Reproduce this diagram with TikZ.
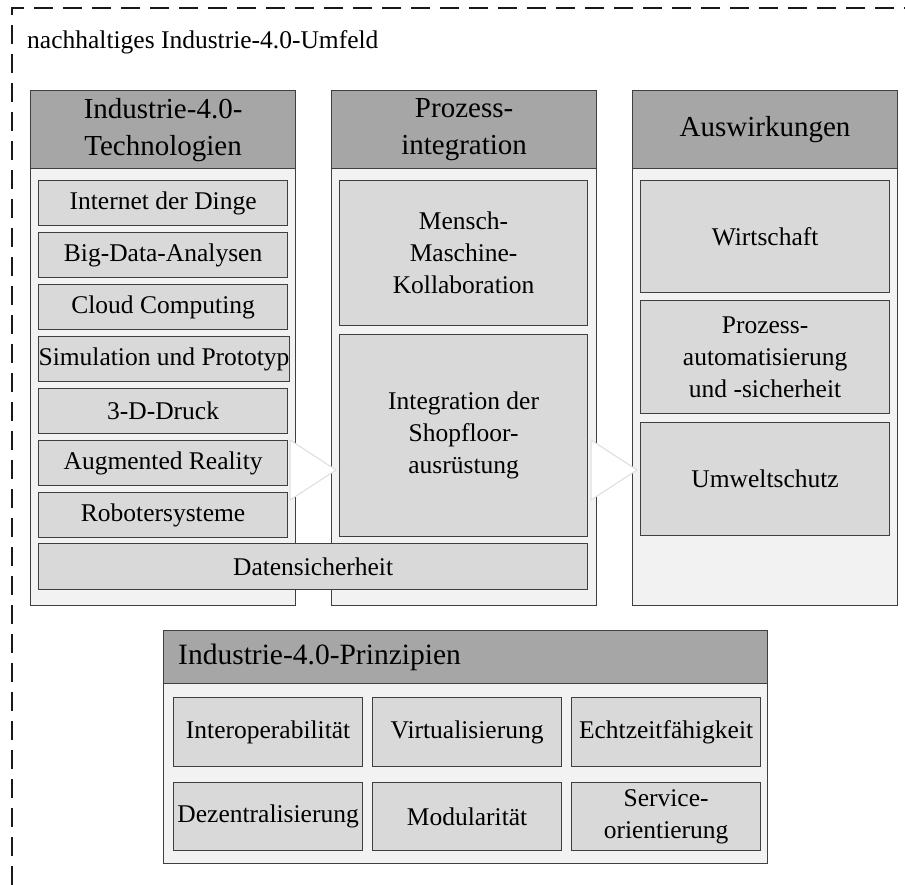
\documentclass[tikz,border=0pt]{standalone}
\usepackage{fontspec}
\setmainfont{Liberation Serif}
\definecolor{headgray}{HTML}{A6A6A6}
\definecolor{bodygray}{HTML}{F2F2F2}
\definecolor{itemgray}{HTML}{D9D9D9}
\definecolor{edgegray}{HTML}{3F3F3F}
\definecolor{tipgray}{HTML}{DDDDDD}
% \panel{style}{name}{x1}{y1}{x2}{y2}{text}
\newcommand\panel[7]{%
  \node[#1, anchor=north west, minimum width={#5pt-#3pt}, minimum height={#6pt-#4pt}]
    (#2) at (#3,#4) {#7};}
\begin{document}
\begin{tikzpicture}[x=1pt,y=-1pt,
  frame/.style={draw=black!90, line width=2.3pt, dash pattern=on 19pt off 10pt},
  colbody/.style={draw=edgegray, line width=1.2pt, fill=bodygray, inner sep=0pt},
  colhead/.style={draw=edgegray, line width=1.2pt, fill=headgray, inner sep=0pt,
    align=center, font=\fontsize{29}{37}\selectfont},
  item/.style={draw=edgegray, line width=1.2pt, fill=itemgray, inner sep=0pt,
    align=center, font=\fontsize{25.5}{32}\selectfont},
  tri/.style={fill=white, draw=tipgray, line width=1pt, line join=miter}]
\useasboundingbox (0,0) rectangle (905,885);

% surrounding dashed frame and its title
\draw[frame] (12,885) -- (12,8) -- (905,8);
\node[anchor=base west, inner sep=0pt, font=\fontsize{25.5}{30}\selectfont]
  (umfeld) at (27,49) {nachhaltiges Industrie-4.0-Umfeld};

% column 1: technologies
\panel{colbody}{techcol}{30}{90}{295}{605}{}
\panel{colhead}{techhead}{30}{90}{295}{168}{Industrie-4.0-\\Technologien}
\panel{item}{iot}{38}{180}{287}{225}{Internet der Dinge}
\panel{item}{bigdata}{38}{232}{287}{277}{Big-Data-Analysen}
\panel{item}{cloud}{38}{284}{287}{329}{Cloud Computing}
\panel{item}{sim}{38}{336}{287}{381}{Simulation und Prototyp}
\panel{item}{druck}{38}{388}{287}{433}{3-D-Druck}
\panel{item}{ar}{38}{440}{287}{485}{Augmented Reality}
\panel{item}{robot}{38}{492}{287}{537}{Robotersysteme}

% column 2: process integration
\panel{colbody}{proccol}{331}{90}{596}{605}{}
\panel{colhead}{prochead}{331}{90}{596}{168}{Prozess-\\integration}
\panel{item}{mmk}{339}{180}{587}{325}{Mensch-\\Maschine-\\Kollaboration}
\panel{item}{shop}{339}{334}{587}{536}{Integration der\\Shopfloor-\\ausrüstung}

% spanning item below columns 1 and 2
\panel{item}{datsich}{38}{543}{587}{589}{Datensicherheit}

% column 3: effects
\panel{colbody}{effcol}{632}{90}{897}{605}{}
\panel{colhead}{effhead}{632}{90}{897}{168}{Auswirkungen}
\panel{item}{wirt}{640}{180}{889}{292}{Wirtschaft}
\panel{item}{auto}{640}{300}{889}{413}{Prozess-\\automatisierung\\und -sicherheit}
\panel{item}{umwelt}{640}{422}{889}{535}{Umweltschutz}

% flow arrows between the columns
\filldraw[tri] (290,440) -- (336,470) -- (290,500) -- cycle;
\filldraw[tri] (591,440) -- (637,470) -- (591,500) -- cycle;

% principles block
\panel{colbody}{prinzbox}{163}{630}{767}{863}{}
\panel{colhead}{prinzhead}{163}{630}{767}{683}{}
\node[anchor=west, inner sep=0pt, font=\fontsize{29.5}{34}\selectfont]
  (prinztitle) at (178,657) {Industrie-4.0-Prinzipien};
\panel{item}{interop}{173}{697}{362}{766}{Interoperabilität}
\panel{item}{virt}{372}{697}{561}{766}{Virtualisierung}
\panel{item}{echtzeit}{571}{697}{760}{766}{Echtzeitfähigkeit}
\panel{item}{dezent}{173}{782}{362}{850}{Dezentralisierung}
\panel{item}{modul}{372}{782}{561}{850}{Modularität}
\panel{item}{service}{571}{782}{760}{850}{Service-\\orientierung}
\end{tikzpicture}
\end{document}
